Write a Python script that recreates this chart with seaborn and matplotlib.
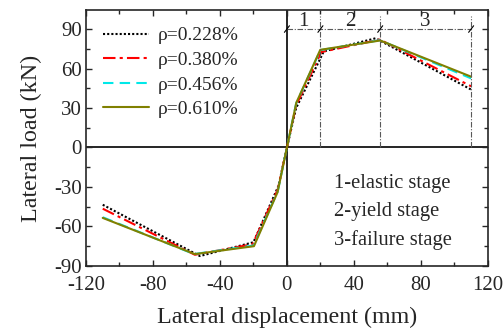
import matplotlib
matplotlib.use("Agg")
import matplotlib.pyplot as plt
import seaborn as sns

# lateral load - displacement skeleton curves
labels = ["ρ=0.228%", "ρ=0.380%", "ρ=0.456%", "ρ=0.610%"]
disp_228 = [-110, -52, -20, -5, 0, 5.5, 22, 53, 110]
load_228 = [-43.5, -82.5, -72, -29, 0, 30, 73, 83, 44]
disp_380 = [-110, -55, -20.5, -5.5, 0, 5.5, 20.5, 55.5, 110]
load_380 = [-46.5, -81.5, -73.5, -32, 0, 32, 72.5, 82, 46.5]
disp_456 = [-110, -55.5, -20, -5.5, 0, 5.5, 20, 55.5, 110]
load_456 = [-53, -81, -74.5, -33.5, 0, 33.5, 74, 81.5, 52.5]
disp_610 = [-110, -55, -19.7, -5.6, 0, 5.6, 19.9, 55.7, 110]
load_610 = [-53.5, -81, -75, -34, 0, 34, 74.2, 81.3, 53.8]

stage_bounds = [0, 20, 55.7, 110]
stage_names = ["1", "2", "3"]
stage_notes = ["1-elastic stage", "2-yield stage", "3-failure stage"]

sns.set_style("ticks")
plt.rcParams["font.family"] = ["Liberation Serif", "DejaVu Serif"]
plt.rcParams["axes.unicode_minus"] = False

fig = plt.figure(figsize=(5.04, 3.32), dpi=100)
ax = fig.add_axes([0.1706, 0.199, 0.7974, 0.771])

series = [
    (disp_228, load_228, "black", (0, (1, 1))),
    (disp_380, load_380, "red", (0, (6, 2, 1.5, 2))),
    (disp_456, load_456, "#00e8e8", (0, (5, 3))),
    (disp_610, load_610, "#808000", "-"),
]
for (xs, ys, c, ls), lab in zip(series, labels):
    sns.lineplot(x=xs, y=ys, sort=False, color=c, linestyle=ls, lw=1.5,
                 label=lab, ax=ax)

ax.axhline(0, color="black", lw=1.2, zorder=0)
ax.axvline(0, color="black", lw=1.2, zorder=0)

# stage dimension line
dim_style = dict(color="0.35", lw=0.8, linestyle=(0, (5, 1.5, 1, 1.5)))
ax.plot([stage_bounds[0], stage_bounds[-1]], [90, 90], **dim_style)
for b in stage_bounds[1:]:
    ax.plot([b, b], [0, 100], **dim_style)
for b in stage_bounds:
    ax.plot([b - 1.5, b + 1.5], [87.5, 92.5], color="black", lw=0.8)
for i, name in enumerate(stage_names):
    mid = (stage_bounds[i] + stage_bounds[i + 1]) / 2
    ax.text(mid, 95.5, name, ha="center", va="center", fontsize=15)
for i, note in enumerate(stage_notes):
    ax.text(28, -27.5 - 21.5 * i, note, ha="left", va="center", fontsize=14.8)

ax.set_xlim(-120, 120)
ax.set_ylim(-90, 104.5)
ax.set_xticks([-120, -80, -40, 0, 40, 80, 120])
ax.set_xticks(range(-100, 120, 40), minor=True)
ax.set_yticks([-90, -60, -30, 0, 30, 60, 90])
ax.set_yticks([-75, -45, -15, 15, 45, 75], minor=True)
ax.tick_params(which="both", direction="in", top=True, right=True,
               labelsize=15, width=1)
ax.tick_params(which="major", length=4)
ax.tick_params(which="minor", length=3)
ax.tick_params(axis="x", pad=7)
ax.tick_params(axis="y", pad=3)
for s in ax.spines.values():
    s.set_linewidth(1.2)

ax.set_xlabel("Lateral displacement (mm)", fontsize=17.3, labelpad=9)
ax.set_ylabel("Lateral load (kN)", fontsize=17.3, labelpad=9)

leg = ax.legend(loc="upper left", bbox_to_anchor=(0.022, 0.965), frameon=False,
                fontsize=14, handlelength=2.4, handletextpad=0.45,
                labelspacing=0.36, borderaxespad=0)

fig.savefig("out.png", dpi=100)
